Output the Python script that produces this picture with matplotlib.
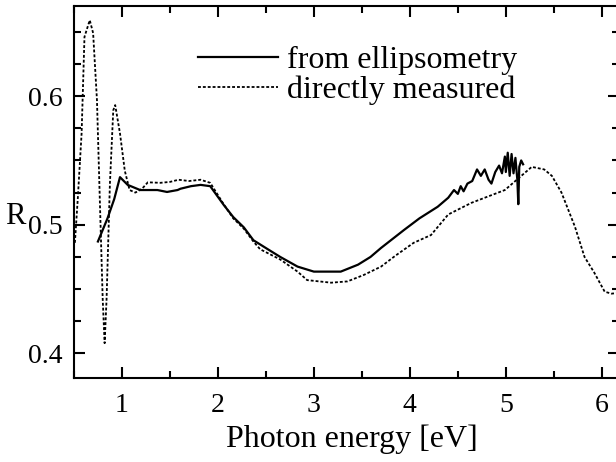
import numpy as np
import matplotlib
matplotlib.use("Agg")
import matplotlib.pyplot as plt
from matplotlib.ticker import MultipleLocator

plt.rcParams['font.family'] = ['Liberation Serif', 'DejaVu Serif']

# reflectivity from ellipsometry
ell_energy = [0.75, 0.85, 0.92, 0.98, 1.06, 1.19, 1.37, 1.47, 1.58, 1.61, 1.72, 1.82, 1.92,
              2.06, 2.16, 2.27, 2.37, 2.52, 2.65, 2.83, 3.00, 3.28, 3.46, 3.59, 3.70,
              3.94, 4.10, 4.29, 4.40, 4.46, 4.50, 4.53, 4.56, 4.60, 4.65, 4.70, 4.74,
              4.78, 4.82, 4.85, 4.89, 4.93, 4.96, 4.99, 5.00, 5.02, 5.04, 5.06, 5.08,
              5.10, 5.12, 5.13, 5.14, 5.16, 5.18]
ell_R = [0.487, 0.505, 0.520, 0.537, 0.531, 0.527, 0.527, 0.5255, 0.527, 0.528, 0.530, 0.531, 0.530,
         0.5155, 0.506, 0.498, 0.488, 0.481, 0.475, 0.4675, 0.4636, 0.4636, 0.469, 0.475, 0.482,
         0.496, 0.505, 0.514, 0.521, 0.527, 0.524, 0.530, 0.526, 0.532, 0.534, 0.543, 0.538,
         0.543, 0.535, 0.532, 0.541, 0.546, 0.540, 0.553, 0.541, 0.556, 0.538, 0.555, 0.540,
         0.552, 0.535, 0.516, 0.545, 0.550, 0.547]

# directly measured reflectivity
meas_energy = [0.51, 0.54, 0.58, 0.61, 0.665, 0.70, 0.74, 0.77, 0.80, 0.82, 0.84, 0.875,
               0.91, 0.93, 0.98, 1.03, 1.08, 1.14, 1.21, 1.27, 1.40, 1.50, 1.59, 1.70,
               1.82, 1.92, 2.06, 2.16, 2.27, 2.37, 2.44, 2.65, 2.83, 2.93, 3.18, 3.35,
               3.52, 3.70, 3.85, 4.04, 4.22, 4.40, 4.64, 4.99, 5.13, 5.27, 5.40, 5.48,
               5.58, 5.72, 5.82, 5.92, 6.03, 6.10, 6.18]
meas_R = [0.486, 0.520, 0.571, 0.646, 0.659, 0.649, 0.597, 0.519, 0.442, 0.408, 0.442, 0.532,
          0.589, 0.593, 0.571, 0.542, 0.527, 0.525, 0.528, 0.533, 0.5326, 0.5333, 0.535, 0.534,
          0.535, 0.5326, 0.516, 0.505, 0.497, 0.487, 0.481, 0.473, 0.4636, 0.457, 0.455, 0.456,
          0.461, 0.4675, 0.476, 0.486, 0.492, 0.508, 0.517, 0.527, 0.536, 0.545, 0.543, 0.538,
          0.525, 0.4985, 0.475, 0.463, 0.448, 0.4465, 0.447]

fig = plt.figure(figsize=(6.16, 4.62), dpi=100)
ax = fig.add_axes([0.12, 0.182, 0.885, 0.805])

ax.plot(ell_energy, ell_R, color='black', lw=1.6, label='from ellipsometry')
ax.plot(meas_energy, meas_R, color='black', lw=1.3, linestyle=(0, (1.6, 1.1)),
        label='directly measured')

ax.set_xlim(0.5, 6.18)
ax.set_ylim(0.381, 0.67)
ax.xaxis.set_major_locator(MultipleLocator(1))
ax.xaxis.set_minor_locator(MultipleLocator(0.5))
ax.yaxis.set_major_locator(MultipleLocator(0.1))
ax.yaxis.set_minor_locator(MultipleLocator(0.025))
ax.tick_params(which='both', direction='in', top=True, right=True, labelsize=20, width=1.5)
ax.tick_params(which='major', length=8, pad=8)
ax.tick_params(axis='x', which='major', pad=11)
ax.tick_params(which='minor', length=5)
for s in ax.spines.values():
    s.set_linewidth(1.5)

ax.set_xlabel('Photon energy [eV]', fontsize=23)
ax.xaxis.set_label_coords(0.509, -0.125)
fig.text(0.008, 0.532, 'R', fontsize=22, va='center', ha='left')

ax.legend(loc='upper left', bbox_to_anchor=(0.192, 0.945), frameon=False, fontsize=23,
          handlelength=2.5, handletextpad=0.28, labelspacing=0.02, borderaxespad=0.2)

fig.savefig('out.png', dpi=100)
